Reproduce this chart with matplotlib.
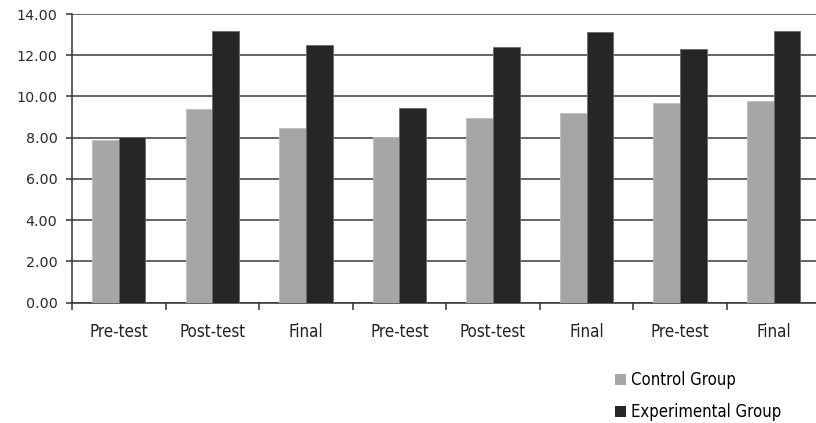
import matplotlib
matplotlib.use("Agg")
import matplotlib.pyplot as plt
import numpy as np
from matplotlib.patches import Patch
from matplotlib.font_manager import FontProperties

categories = ["Pre-test", "Post-test", "Final", "Pre-test", "Post-test", "Final", "Pre-test", "Final"]
control = [7.89, 9.38, 8.46, 8.05, 8.94, 9.22, 9.70, 9.78]
experimental = [8.04, 13.19, 12.50, 9.43, 12.42, 13.11, 12.29, 13.19]
y_ticks = [0, 2, 4, 6, 8, 10, 12, 14]

plt.rcParams["font.family"] = ["DejaVu Sans"]

fig = plt.figure(figsize=(8.16, 4.23), dpi=100)
ax = fig.add_axes([72 / 816, 120.3 / 423, 748.5 / 816, 288.7 / 423])

x = np.arange(len(categories))
w = 0.285
ax.bar(x - w / 2, control, w, color="#a6a6a6", edgecolor="#bdbdbd", linewidth=0.6, zorder=3)
ax.bar(x + w / 2, experimental, w, color="#262626", edgecolor="#6a6a6a", linewidth=0.6, zorder=3)

ax.set_ylim(0, 14)
ax.set_xlim(-0.5, len(categories) - 0.5)
ax.set_yticks(y_ticks)
ax.set_yticklabels([f"{v:.2f}" for v in y_ticks], fontsize=10.3, color="#2a2a2a")
ax.yaxis.grid(True, color="#3a3a3a", linewidth=1.1, zorder=0)
ax.set_axisbelow(True)

cond = FontProperties(family="DejaVu Sans", stretch="condensed", size=12.2)
ax.set_xticks(np.arange(len(categories) + 1) - 0.5)
ax.set_xticklabels([])
ax.set_xticks(x, minor=True)
ax.set_xticklabels(categories, minor=True, fontproperties=cond, color="#222222")
ax.tick_params(axis="x", which="minor", length=0, pad=14.5)
ax.tick_params(axis="x", which="major", length=5, width=1.1, color="#333333", direction="out")
ax.tick_params(axis="y", length=4.5, width=1.1, color="#333333", pad=6)

for s in ["top", "right"]:
    ax.spines[s].set_visible(False)
ax.spines["left"].set_color("#333333")
ax.spines["left"].set_linewidth(1.1)
ax.spines["bottom"].set_color("#333333")
ax.spines["bottom"].set_linewidth(1.1)

handles = [Patch(facecolor="#a6a6a6", label="Control Group"),
           Patch(facecolor="#262626", label="Experimental Group")]
fig.legend(handles=handles, loc="upper left", bbox_to_anchor=(600 / 816, 1 - 356 / 423),
           frameon=False, prop=FontProperties(family="DejaVu Sans", stretch="condensed", size=12),
           handlelength=0.66, handleheight=0.66, handletextpad=0.3, labelspacing=0.86)

fig.savefig("out.png", dpi=100)
